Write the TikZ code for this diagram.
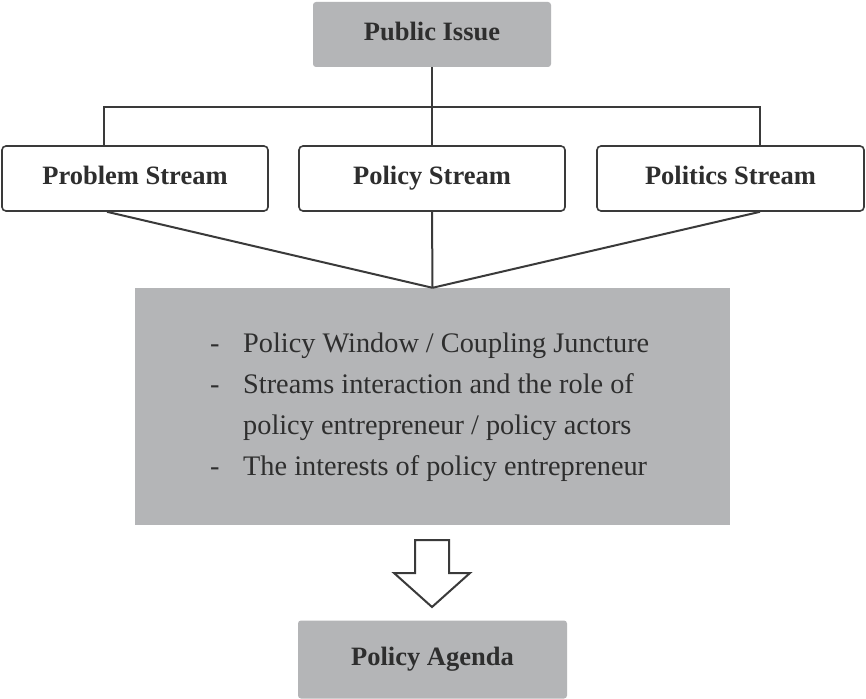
\documentclass[tikz,border=0pt]{standalone}
\usepackage{fontspec}
\setmainfont{Liberation Serif}
\usetikzlibrary{calc}
\definecolor{boxgray}{HTML}{B4B5B7}
\definecolor{linegray}{HTML}{3A3A3A}
\definecolor{txtgray}{HTML}{2E2E2E}
\begin{document}
\begin{tikzpicture}[x=1pt,y=-1pt,
  labelfont/.style={text=txtgray, font=\fontsize{26.5}{30}\selectfont\bfseries,
    text height=19pt, text depth=7pt},
  graybox/.style={labelfont, fill=boxgray, draw=none, rounded corners=3pt, inner sep=0pt},
  whitebox/.style={labelfont, fill=white, draw=linegray, line width=1.6pt, rounded corners=4pt,
    inner sep=0pt, minimum height=65},
  conn/.style={draw=linegray, line width=2pt},
  itemtext/.style={anchor=base west, inner sep=0pt, text=txtgray, font=\fontsize{28.3}{40}\selectfont}]
\useasboundingbox (0,0) rectangle (866,698);
\fill[white] (0,0) rectangle (866,698);
% nodes
\node[graybox, minimum width=238, minimum height=65] (pub) at (432,34.5) {Public Issue};
\node[whitebox, minimum width=266] (prob) at (135,178.5) {Problem Stream};
\node[whitebox, minimum width=266] (pol) at (432,178.5) {Policy Stream};
\node[whitebox, minimum width=267] (pols) at (730.5,178.5) {Politics Stream};
\node[fill=boxgray, draw=none, minimum width=595, minimum height=237, inner sep=0pt] (mid) at (432.5,406.5) {};
\node[graybox, minimum width=269, minimum height=78] (agenda) at (432.5,659.5) {Policy Agenda};
% middle text
\node[itemtext] (d1) at (210,352) {-};
\node[itemtext] (t1) at (243,352) {Policy Window / Coupling Juncture};
\node[itemtext] (d2) at (210,393) {-};
\node[itemtext] (t2) at (243,393) {Streams interaction and the role of};
\node[itemtext] (t3) at (243,434) {policy entrepreneur / policy actors};
\node[itemtext] (d4) at (210,475) {-};
\node[itemtext] (t4) at (243,475) {The interests of policy entrepreneur};
% top connectors
\coordinate (hl) at (104,107);
\coordinate (hr) at (760,107);
\draw[conn] (pub.south) -- (pol.north);
\draw[conn] (prob.north -| hl) -- (hl) -- (hr) -- (pols.north -| hr);
% bottom connectors
\coordinate (bl) at (107,0);
\coordinate (br) at (760,0);
\draw[conn] (prob.south -| bl) -- (mid.north);
\draw[conn] (pol.south) -- (mid.north);
\draw[conn] (pols.south -| br) -- (mid.north);
% hollow arrow
\coordinate (arr) at (432,540);
\draw[draw=linegray, fill=white, line width=2pt, line join=miter]
  ($(arr)+(-17,0)$) -- ($(arr)+(17,0)$) -- ($(arr)+(17,33)$) -- ($(arr)+(38,33)$)
  -- ($(arr)+(0,67)$) -- ($(arr)+(-38,33)$) -- ($(arr)+(-17,33)$) -- cycle;
\end{tikzpicture}
\end{document}
